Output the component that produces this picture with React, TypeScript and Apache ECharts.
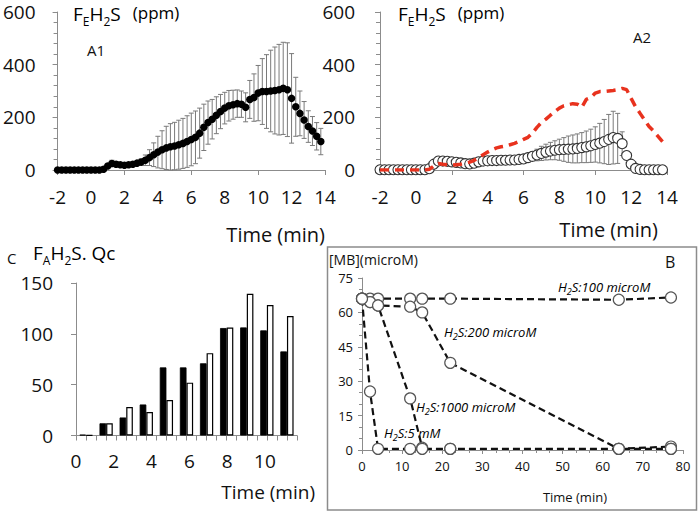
import React, { useEffect, useRef } from 'react';
import * as echarts from 'echarts';

// ---------- Data ----------
const T = [-2, -1.75, -1.5, -1.25, -1, -0.75, -0.5, -0.25, 0, 0.25, 0.5, 0.75, 1, 1.25, 1.5, 1.75, 2, 2.25, 2.5, 2.75, 3, 3.25, 3.5, 3.75, 4, 4.25, 4.5, 4.75, 5, 5.25, 5.5, 5.75, 6, 6.25, 6.5, 6.75, 7, 7.25, 7.5, 7.75, 8, 8.25, 8.5, 8.75, 9, 9.25, 9.5, 9.75, 10, 10.25, 10.5, 10.75, 11, 11.25, 11.5, 11.75, 12, 12.25, 12.5, 12.75, 13, 13.25, 13.5, 13.75];

const A1Mean = [0, 0, 0, 0, 0, 0, 0, 0, 0, 0, 0, 3, 15, 25, 22, 20, 18, 20, 22, 26, 30, 37, 47, 58, 68, 77, 84, 88, 91, 96, 101, 108, 116, 124, 140, 162, 180, 193, 208, 222, 235, 244, 248, 252, 250, 238, 268, 275, 292, 298, 298, 300, 302, 305, 310, 305, 272, 240, 215, 190, 165, 148, 128, 108];
const A1SD = [0, 0, 0, 0, 0, 0, 0, 0, 0, 0, 0, 3, 8, 12, 10, 6, 5, 5, 6, 8, 12, 20, 30, 45, 60, 72, 82, 88, 90, 93, 95, 98, 100, 100, 95, 88, 82, 75, 70, 65, 60, 58, 55, 52, 50, 55, 72, 90, 105, 125, 140, 155, 165, 172, 175, 178, 170, 112, 85, 70, 60, 55, 52, 50];

const A2Mean = [1, 1, 1, 1, 1, 1, 1, 1, 1, 1, 1, 5, 22, 34, 34, 33, 31, 29, 27, 24, 23, 26, 31, 34, 35, 36, 36, 37, 37, 38, 38, 40, 42, 47, 52, 57, 63, 68, 72, 75, 77, 78, 79, 80, 82, 85, 88, 92, 97, 102, 108, 116, 123, 120, 100, 55, 22, 6, 2, 1, 1, 1, 1, 1];
const A2SD = [0, 0, 0, 0, 0, 0, 0, 0, 0, 0, 0, 2, 4, 5, 5, 4, 4, 4, 4, 4, 4, 4, 4, 4, 4, 4, 4, 4, 4, 4, 5, 6, 8, 12, 17, 22, 27, 30, 33, 36, 40, 45, 50, 53, 55, 57, 60, 63, 67, 75, 84, 95, 100, 95, 45, 10, 3, 2, 0, 0, 0, 0, 0, 0];

const C_CATS = ['1', '2', '3', '4', '5', '6', '7', '8', '9', '10', '11'];
const C_BLACK = [0.8, 12, 17.7, 30.5, 67, 67, 71, 105.7, 106.3, 103.4, 82.7];
const C_WHITE = [0.3, 12, 28, 23, 34.8, 52, 81, 106.3, 139.5, 128.3, 117.5];
const C_TICK_CATS = ['a1', 'b1', 'a2', 'b2', 'a3', 'b3', 'a4', 'b4', 'a5', 'b5', 'a6', 'b6', 'a7', 'b7', 'a8', 'b8', 'a9', 'b9', 'a10', 'b10', 'a11', 'b11'];

const B_TIME = [0, 2, 4, 12, 15, 22, 64, 77];
const B_100 = [66, 66, 66, 66, 66, 66, 65.5, 66.5];
const B_200 = [66, 64.5, 63, 62.5, 60, 38, 0.5, 1.5];
const B_1000 = [66, 64.5, 63, 22.5, 1, 0.5, 0.5, 0.5];
const B_5MM = [66, 25.5, 0.5, 0.5, 0.5, 0.5, 0.5, 0.5];
// index of the last point joined by each dashed line (later points sit on another line)
const B_LINE_LAST = [7, 7, 4, 7];

// ---------- Styles ----------
const FONT = 'Open Sans';
const AX = '#8c8c8c';
const TXT = '#111';

const errRender = (color: string) => (params: any, api: any) => {
  const x = api.value(0), lo = api.value(1), hi = api.value(2);
  if (hi - lo <= 0) return { type: 'group', children: [] };
  const a = api.coord([x, hi]);
  const b = api.coord([x, lo]);
  const w = 2.5;
  const st = { stroke: color, lineWidth: 1 };
  return {
    type: 'group',
    children: [
      { type: 'line', shape: { x1: a[0], y1: a[1], x2: b[0], y2: b[1] }, style: st },
      { type: 'line', shape: { x1: a[0] - w, y1: a[1], x2: a[0] + w, y2: a[1] }, style: st },
      { type: 'line', shape: { x1: b[0] - w, y1: b[1], x2: b[0] + w, y2: b[1] }, style: st },
    ],
  };
};

const titleRich = {
  m: { fontSize: 19, lineHeight: 20, verticalAlign: 'top', fontFamily: FONT, color: TXT },
  s: { fontSize: 12, lineHeight: 12, padding: [11, 0, 0, 0], verticalAlign: 'top', fontFamily: FONT, color: TXT },
  p: { fontSize: 17, lineHeight: 17, padding: [0, 0, 0, 12], verticalAlign: 'top', fontFamily: FONT, color: TXT },
};
const bRich = {
  i: { fontSize: 13, fontStyle: 'italic', lineHeight: 14, verticalAlign: 'top', fontFamily: FONT, color: TXT },
  s: { fontSize: 9, fontStyle: 'italic', lineHeight: 9, padding: [7, 0, 0, 0], verticalAlign: 'top', fontFamily: FONT, color: TXT },
};

function txt(x: number, y: number, text: string, size: number, align = 'left', extra: any = {}) {
  return {
    type: 'text', x, y, silent: true,
    style: { text, fontSize: size, fontFamily: FONT, fill: TXT, align, verticalAlign: 'middle', ...extra },
  };
}

function aXAxes(grid: number, margin: number) {
  return [
    {
      type: 'value', gridIndex: grid, position: 'bottom', min: -2, max: 14, interval: 2,
      axisLine: { show: true, onZero: false, lineStyle: { color: AX, width: 1 } },
      axisTick: { show: false }, splitLine: { show: false },
      axisLabel: { fontSize: 19, fontFamily: FONT, color: TXT, margin },
    },
    {
      type: 'value', gridIndex: grid, position: 'bottom', min: -2, max: 14, interval: 4,
      axisLine: { show: false, onZero: false }, splitLine: { show: false },
      axisTick: { show: true, length: 5, lineStyle: { color: AX } },
      axisLabel: { show: false },
    },
  ];
}
function aYAxis(grid: number, margin: number) {
  return {
    type: 'value', gridIndex: grid, position: 'left', min: 0, max: 600, interval: 200,
    axisLine: { show: true, onZero: false, lineStyle: { color: AX, width: 1 } },
    axisTick: { show: true, length: 5, lineStyle: { color: AX } },
    minorTick: { show: true, splitNumber: 5, length: 4, lineStyle: { color: AX } },
    splitLine: { show: false },
    axisLabel: { fontSize: 19, lineHeight: 19, fontFamily: FONT, color: TXT, margin },
  };
}

export default function App() {
  const ref = useRef<HTMLDivElement>(null);
  useEffect(() => {
    const chart = echarts.init(ref.current!, null, { renderer: 'svg' });
    const a1Err = T.map((t, i) => [t, Math.max(0, A1Mean[i] - A1SD[i]), A1Mean[i] + A1SD[i]]);
    const a2Err = T.map((t, i) => [t, Math.max(0, A2Mean[i] - A2SD[i]), A2Mean[i] + A2SD[i]]);
    const bSets = [B_100, B_200, B_1000, B_5MM];
    const bLines = bSets.map((vals, k) => ({
      type: 'line', xAxisIndex: 7, yAxisIndex: 3,
      data: B_TIME.slice(0, B_LINE_LAST[k] + 1).map((t, i) => [t, vals[i]]),
      symbol: 'none',
      lineStyle: { color: '#111', width: 2.2, type: [7, 4] },
      z: 2,
    }));
    const bDots = bSets.map((vals) => ({
      type: 'scatter', xAxisIndex: 7, yAxisIndex: 3,
      data: B_TIME.map((t, i) => [t, vals[i]]),
      symbol: 'circle', symbolSize: 11,
      itemStyle: { color: '#fff', borderColor: '#555', borderWidth: 1.2, opacity: 1 },
      z: 4,
    }));
    const option: any = {
      animation: false,
      backgroundColor: '#fff',
      textStyle: { fontFamily: FONT },
      grid: [
        { left: 57, top: 12, width: 268, height: 158 },
        { left: 380, top: 12, width: 287, height: 158 },
        { left: 76, top: 283, width: 221, height: 152.5 },
        { left: 362, top: 278, width: 321, height: 172 },
      ],
      xAxis: [
        ...aXAxes(0, 17),
        ...aXAxes(1, 17),
        {
          type: 'category', gridIndex: 2, position: 'bottom', data: C_CATS, boundaryGap: true,
          axisLine: { show: true, onZero: false, lineStyle: { color: AX } }, axisTick: { show: false }, axisLabel: { show: false },
        },
        {
          type: 'category', gridIndex: 2, position: 'bottom', data: C_TICK_CATS, boundaryGap: true,
          axisLine: { show: false, onZero: false }, axisLabel: { show: false },
          axisTick: { show: true, interval: 0, alignWithLabel: false, length: 5, lineStyle: { color: AX } },
        },
        {
          type: 'value', gridIndex: 2, position: 'bottom', min: 0, max: 11.7, interval: 2,
          axisLine: { show: false, onZero: false }, axisTick: { show: false }, splitLine: { show: false },
          axisLabel: {
            fontSize: 19, fontFamily: FONT, color: TXT, margin: 16, showMaxLabel: false,
            formatter: (v: number) => (Number.isInteger(v) && v % 2 === 0 && v <= 10 ? String(v) : ''),
          },
        },
        {
          type: 'value', gridIndex: 3, position: 'bottom', min: 0, max: 80, interval: 10,
          axisLine: { show: true, onZero: false, lineStyle: { color: AX } },
          axisTick: { show: true, length: 4, lineStyle: { color: AX } },
          minorTick: { show: true, splitNumber: 3, length: 3, lineStyle: { color: AX } },
          splitLine: { show: false },
          axisLabel: { fontSize: 13, fontFamily: FONT, color: TXT, margin: 9 },
        },
      ],
      yAxis: [
        aYAxis(0, 22),
        aYAxis(1, 25),
        {
          type: 'value', gridIndex: 2, position: 'left', min: 0, max: 150, interval: 50,
          axisLine: { show: true, onZero: false, lineStyle: { color: AX } },
          axisTick: { show: true, length: 5, lineStyle: { color: AX } },
          splitLine: { show: false },
          axisLabel: { fontSize: 19, fontFamily: FONT, color: TXT, margin: 23 },
        },
        {
          type: 'value', gridIndex: 3, position: 'left', min: 0, max: 75, interval: 15,
          axisLine: { show: true, onZero: false, lineStyle: { color: AX } },
          axisTick: { show: true, length: 4, lineStyle: { color: AX } },
          minorTick: { show: true, splitNumber: 3, length: 3, lineStyle: { color: AX } },
          splitLine: { show: false },
          axisLabel: { fontSize: 13, fontFamily: FONT, color: TXT, margin: 9 },
        },
      ],
      series: [
        { type: 'custom', xAxisIndex: 0, yAxisIndex: 0, data: a1Err, renderItem: errRender('#7a7a7a'), encode: { x: 0, y: [1, 2] }, z: 1 },
        {
          type: 'scatter', xAxisIndex: 0, yAxisIndex: 0, data: T.map((t, i) => [t, A1Mean[i]]),
          symbol: 'circle', symbolSize: 7.5, itemStyle: { color: '#000', opacity: 1 }, z: 2,
        },
        { type: 'custom', xAxisIndex: 2, yAxisIndex: 1, data: a2Err, renderItem: errRender('#7a7a7a'), encode: { x: 0, y: [1, 2] }, z: 1 },
        {
          type: 'scatter', xAxisIndex: 2, yAxisIndex: 1, data: T.map((t, i) => [t, A2Mean[i]]),
          symbol: 'circle', symbolSize: 10, itemStyle: { color: '#fff', borderColor: '#333', borderWidth: 1.1, opacity: 1 }, z: 2,
        },
        {
          type: 'line', xAxisIndex: 2, yAxisIndex: 1, data: T.map((t, i) => [t, A1Mean[i]]),
          symbol: 'none', lineStyle: { color: '#e8321e', width: 3.5, type: [9, 6] }, z: 3,
        },
        {
          type: 'bar', xAxisIndex: 4, yAxisIndex: 2, data: C_BLACK, barGap: '0%', barCategoryGap: '34%',
          itemStyle: { color: '#000', borderColor: '#000', borderWidth: 0.8 },
        },
        {
          type: 'bar', xAxisIndex: 4, yAxisIndex: 2, data: C_WHITE, barGap: '0%', barCategoryGap: '34%',
          itemStyle: { color: '#fff', borderColor: '#000', borderWidth: 1.2 },
        },
        ...bLines,
        ...bDots,
      ],
      graphic: [
        { type: 'rect', shape: { x: 327.5, y: 247, width: 369, height: 263 }, style: { fill: 'none', stroke: '#8c8c8c', lineWidth: 1.5 }, silent: true, z: -1 },
        { type: 'text', x: 73, y: 4, silent: true, style: { text: '{m|F}{s|E}{m|H}{s|2}{m|S}{p|(ppm)}', rich: titleRich, verticalAlign: 'top' } },
        { type: 'text', x: 398, y: 4, silent: true, style: { text: '{m|F}{s|E}{m|H}{s|2}{m|S}{p|(ppm)}', rich: titleRich, verticalAlign: 'top' } },
        { type: 'text', x: 33, y: 243, silent: true, style: { text: '{m|F}{s|A}{m|H}{s|2}{m|S. Qc}', rich: titleRich, verticalAlign: 'top' } },
        txt(87, 50, 'A1', 15),
        txt(633, 37, 'A2', 15),
        txt(7, 258, 'C', 15),
        txt(325, 234, 'Time (min)', 20, 'right'),
        txt(658, 229, 'Time (min)', 20, 'right'),
        txt(315, 492, 'Time (min)', 19, 'right'),
        txt(607, 497, 'Time (min)', 13, 'right'),
        txt(329, 259, '[MB](microM)', 14),
        txt(665, 262, 'B', 16),
        { type: 'text', x: 558, y: 280, silent: true, style: { text: '{i|H}{s|2}{i|S:100 microM}', rich: bRich, verticalAlign: 'top' } },
        { type: 'text', x: 444, y: 325, silent: true, style: { text: '{i|H}{s|2}{i|S:200 microM}', rich: bRich, verticalAlign: 'top' } },
        { type: 'text', x: 416, y: 400, silent: true, style: { text: '{i|H}{s|2}{i|S:1000 microM}', rich: bRich, verticalAlign: 'top' } },
        { type: 'text', x: 384, y: 426, silent: true, style: { text: '{i|H}{s|2}{i|S:5 mM}', rich: bRich, verticalAlign: 'top' } },
      ],
    };
    chart.setOption(option);
    return () => chart.dispose();
  }, []);
  return <div ref={ref} style={{ position: 'fixed', left: 0, top: 0, width: 700, height: 513, background: '#fff' }} />;
}
